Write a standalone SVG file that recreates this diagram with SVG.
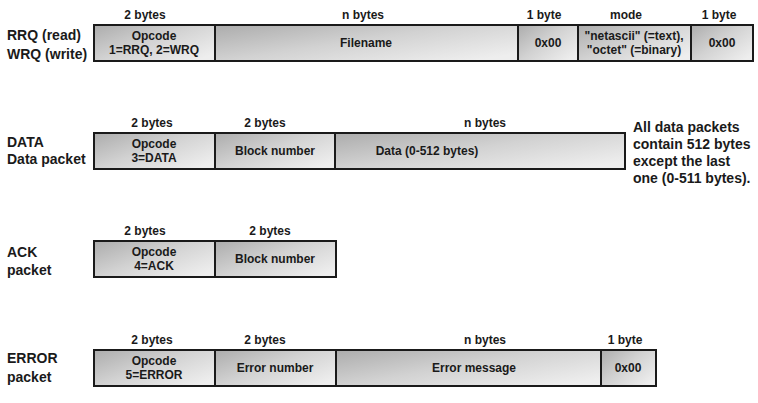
<svg xmlns="http://www.w3.org/2000/svg" width="758" height="403" viewBox="0 0 758 403">
<defs>
<linearGradient id="g" x1="0" y1="0" x2="1" y2="0.8">
<stop offset="0" stop-color="#acacac"/>
<stop offset="0.5" stop-color="#d2d2d2"/>
<stop offset="1" stop-color="#eeeeee"/>
</linearGradient>
</defs>
<style>
.c{fill:url(#g);stroke:#1a1a1a;stroke-width:2}
text{font-family:"Liberation Sans",Arial,sans-serif;font-weight:bold;fill:#1a1a1a}
.t{font-size:12px;text-anchor:middle}
.h{font-size:12px;text-anchor:middle}
.l{font-size:14px}
</style>
<rect width="758" height="403" fill="#fff"/>
<g id="rrq">
<text class="l" x="7" y="40">RRQ (read)</text>
<text class="l" x="7" y="59">WRQ (write)</text>
<text class="h" x="145" y="19">2 bytes</text>
<text class="h" x="363" y="19">n bytes</text>
<text class="h" x="544" y="19">1 byte</text>
<text class="h" x="626" y="19">mode</text>
<text class="h" x="719" y="19">1 byte</text>
<rect class="c" x="94" y="25" width="121" height="36"/>
<rect class="c" x="215" y="25" width="303" height="36"/>
<rect class="c" x="518" y="25" width="60" height="36"/>
<rect class="c" x="578" y="25" width="113" height="36"/>
<rect class="c" x="691" y="25" width="62" height="36"/>
<text class="t" x="154" y="40">Opcode</text>
<text class="t" x="154" y="54">1=RRQ, 2=WRQ</text>
<text class="t" x="366" y="47">Filename</text>
<text class="t" x="548" y="47">0x00</text>
<text class="t" x="634" y="40">"netascii" (=text),</text>
<text class="t" x="634" y="54">"octet" (=binary)</text>
<text class="t" x="722" y="47">0x00</text>
</g>
<g id="data">
<text class="l" x="7" y="147">DATA</text>
<text class="l" x="7" y="164">Data packet</text>
<text class="h" x="152" y="127">2 bytes</text>
<text class="h" x="265" y="127">2 bytes</text>
<text class="h" x="485" y="127">n bytes</text>
<rect class="c" x="94" y="133" width="121" height="36"/>
<rect class="c" x="215" y="133" width="120" height="36"/>
<rect class="c" x="335" y="133" width="290" height="36"/>
<text class="t" x="154" y="148">Opcode</text>
<text class="t" x="154" y="162">3=DATA</text>
<text class="t" x="275" y="155">Block number</text>
<text class="t" x="427" y="155">Data (0-512 bytes)</text>
<text class="l" x="633" y="132">All data packets</text>
<text class="l" x="633" y="149">contain 512 bytes</text>
<text class="l" x="633" y="166">except the last</text>
<text class="l" x="633" y="183">one (0-511 bytes).</text>
</g>
<g id="ack">
<text class="l" x="7" y="257">ACK</text>
<text class="l" x="7" y="275">packet</text>
<text class="h" x="145" y="235">2 bytes</text>
<text class="h" x="270" y="235">2 bytes</text>
<rect class="c" x="94" y="241" width="121" height="36"/>
<rect class="c" x="215" y="241" width="121" height="36"/>
<text class="t" x="154" y="256">Opcode</text>
<text class="t" x="154" y="270">4=ACK</text>
<text class="t" x="275" y="263">Block number</text>
</g>
<g id="error">
<text class="l" x="7" y="363">ERROR</text>
<text class="l" x="7" y="382">packet</text>
<text class="h" x="152" y="344">2 bytes</text>
<text class="h" x="265" y="344">2 bytes</text>
<text class="h" x="485" y="344">n bytes</text>
<text class="h" x="625" y="344">1 byte</text>
<rect class="c" x="94" y="350" width="121" height="36"/>
<rect class="c" x="215" y="350" width="121" height="36"/>
<rect class="c" x="336" y="350" width="265" height="36"/>
<rect class="c" x="601" y="350" width="55" height="36"/>
<text class="t" x="154" y="365">Opcode</text>
<text class="t" x="154" y="379">5=ERROR</text>
<text class="t" x="275" y="372">Error number</text>
<text class="t" x="474" y="372">Error message</text>
<text class="t" x="628" y="372">0x00</text>
</g>
<g id="connectors"/>
</svg>
